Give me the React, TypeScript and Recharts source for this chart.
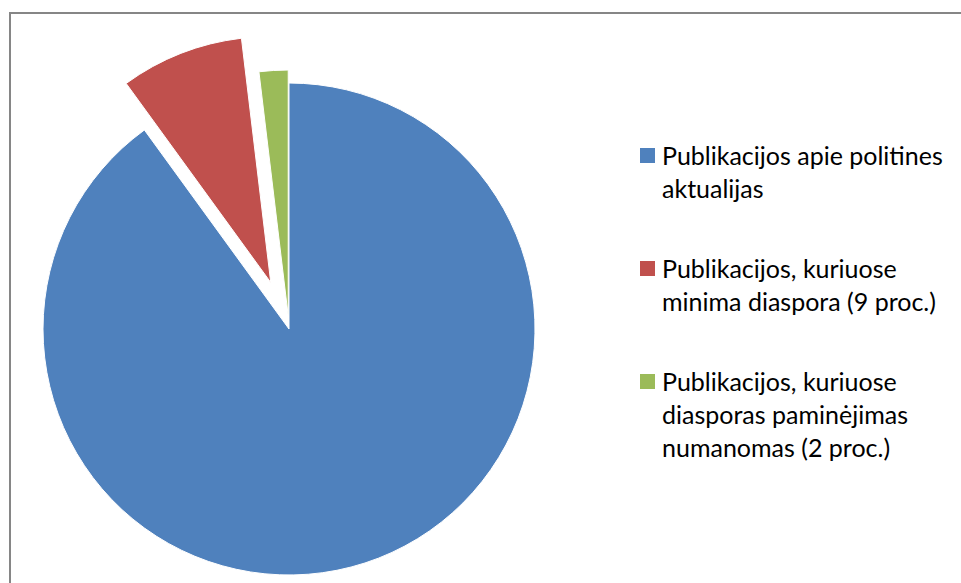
import React from "react";
import { PieChart, Pie, Cell, Legend } from "recharts";

const categories = [
  "Publikacijos apie politines aktualijas",
  "Publikacijos, kuriuose minima diaspora (9 proc.)",
  "Publikacijos, kuriuose diasporas paminėjimas numanomas (2 proc.)",
];
const legendLines = [
  ["Publikacijos apie politines", "aktualijas"],
  ["Publikacijos, kuriuose", "minima diaspora (9 proc.)"],
  ["Publikacijos, kuriuose", "diasporas paminėjimas", "numanomas (2 proc.)"],
];
const values = [90, 8.1, 1.9];
const colors = ["#4F81BD", "#C0504D", "#9BBB59"];
const explode = [0, 50, 13];

const data = categories.map((name, i) => ({ name, value: values[i] }));

const CX = 289;
const CY = 329;
const R = 246;
const START = 90;
const END = -270;

const total = values.reduce((a, b) => a + b, 0);
const midAngles = values.map((v, i) => {
  const before = values.slice(0, i).reduce((a, b) => a + b, 0);
  return START - ((before + v / 2) / total) * (START - END);
});

const FONT = "Lato, 'Open Sans', sans-serif";

function LegendContent() {
  return (
    <div style={{ fontFamily: FONT, fontSize: 25, color: "#000" }}>
      {legendLines.map((lines, i) => (
        <div
          key={i}
          style={{ position: "relative", paddingLeft: 22, marginBottom: 47 }}
        >
          <div
            style={{
              position: "absolute",
              left: 0,
              top: 9,
              width: 15,
              height: 15,
              background: colors[i],
            }}
          />
          {lines.map((l, j) => (
            <div key={j} style={{ lineHeight: "33px", whiteSpace: "nowrap" }}>
              {l}
            </div>
          ))}
        </div>
      ))}
    </div>
  );
}

export default function App() {
  return (
    <div
      style={{
        position: "absolute",
        left: 0,
        top: 0,
        width: 961,
        height: 583,
        overflow: "hidden",
        background: "#fff",
      }}
    >
      <div
        style={{
          position: "absolute",
          left: 9,
          top: 12,
          width: 1000,
          height: 700,
          borderTop: "2px solid #868686",
          borderLeft: "2px solid #868686",
        }}
      />
      <div style={{ position: "absolute", left: 0, top: 0 }}>
        <PieChart
          width={961}
          height={583}
          margin={{ top: 0, right: 0, bottom: 0, left: 0 }}
        >
          {values.map((_, k) => {
            const rad = (midAngles[k] * Math.PI) / 180;
            const dx = explode[k] * Math.cos(rad);
            const dy = -explode[k] * Math.sin(rad);
            return (
              <Pie
                key={k}
                data={data}
                dataKey="value"
                nameKey="name"
                cx={CX + dx}
                cy={CY + dy}
                innerRadius={0}
                outerRadius={R}
                startAngle={START}
                endAngle={END}
                isAnimationActive={false}
                legendType="none"
              >
                {data.map((d, i) => (
                  <Cell
                    key={i}
                    fill={i === k ? colors[i] : "transparent"}
                    stroke={i === k ? "#ffffff" : "none"}
                    strokeWidth={i === k ? 1 : 0}
                  />
                ))}
              </Pie>
            );
          })}
          <Legend
            content={<LegendContent />}
            wrapperStyle={{ left: 640, top: 139, width: 320, bottom: "auto" }}
          />
        </PieChart>
      </div>
    </div>
  );
}
